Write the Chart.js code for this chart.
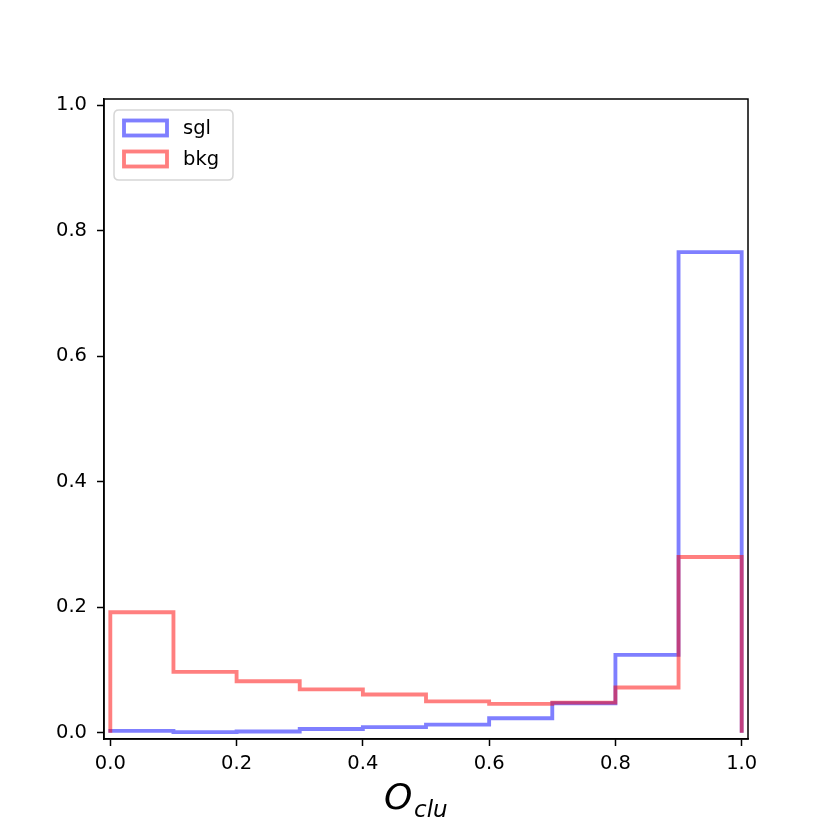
<!DOCTYPE html>
<html>
<head>
<meta charset="utf-8">
<script src="https://cdn.jsdelivr.net/npm/chart.js@4.4.0/dist/chart.umd.min.js"></script>
<style>
html,body{margin:0;padding:0;background:#fff;}
#wrap{width:831px;height:831px;}
</style>
</head>
<body>
<div id="wrap"><canvas id="c" width="831" height="831"></canvas></div>
<script>
// ---- data ----
const binEdges = [0.0, 0.1, 0.2, 0.3, 0.4, 0.5, 0.6, 0.7, 0.8, 0.9, 1.0];
const sglValues = [0.003, 0.001, 0.002, 0.006, 0.009, 0.013, 0.023, 0.047, 0.124, 0.766];
const bkgValues = [0.192, 0.097, 0.082, 0.069, 0.061, 0.050, 0.046, 0.048, 0.072, 0.280];
const seriesLabels = ['sgl', 'bkg'];
const xTicks = [0.0, 0.2, 0.4, 0.6, 0.8, 1.0];
const yTicks = [0.0, 0.2, 0.4, 0.6, 0.8, 1.0];
const xLabelMain = 'O';
const xLabelSub = 'clu';

const FONT = "'DejaVu Sans', sans-serif";
const LW = 3.85;

function stepPoints(edges, vals) {
  const pts = [{x: edges[0], y: 0}];
  for (let i = 0; i < vals.length; i++) pts.push({x: edges[i], y: vals[i]});
  pts.push({x: edges[edges.length - 1], y: vals[vals.length - 1]});
  pts.push({x: edges[edges.length - 1], y: 0});
  return pts;
}

const framePlugin = {
  id: 'frame',
  afterDatasetsDraw(chart) {
    const {ctx, chartArea: a} = chart;
    ctx.save();
    ctx.strokeStyle = '#000';
    ctx.lineWidth = 1.5;
    ctx.strokeRect(a.left, a.top, a.right - a.left, a.bottom - a.top);
    ctx.restore();
  },
  afterDraw(chart) {
    const {ctx} = chart;
    ctx.save();
    // legend box
    const bx = 114, by = 110, bw = 119, bh = 70, r = 5;
    ctx.beginPath();
    ctx.moveTo(bx + r, by);
    ctx.lineTo(bx + bw - r, by);
    ctx.quadraticCurveTo(bx + bw, by, bx + bw, by + r);
    ctx.lineTo(bx + bw, by + bh - r);
    ctx.quadraticCurveTo(bx + bw, by + bh, bx + bw - r, by + bh);
    ctx.lineTo(bx + r, by + bh);
    ctx.quadraticCurveTo(bx, by + bh, bx, by + bh - r);
    ctx.lineTo(bx, by + r);
    ctx.quadraticCurveTo(bx, by, bx + r, by);
    ctx.closePath();
    ctx.fillStyle = 'rgba(255,255,255,0.8)';
    ctx.fill();
    ctx.strokeStyle = 'rgba(204,204,204,0.8)';
    ctx.lineWidth = 1.5;
    ctx.stroke();
    const rows = [128, 159];
    const dsByLabel = {};
    chart.data.datasets.forEach(d => dsByLabel[d.label] = d);
    seriesLabels.forEach((lab, i) => {
      const d = dsByLabel[lab];
      const cy = rows[i];
      ctx.strokeStyle = d.borderColor;
      ctx.lineWidth = LW;
      ctx.lineJoin = 'miter';
      ctx.strokeRect(124, cy - 7.5, 43, 15);
      ctx.fillStyle = '#000';
      ctx.font = '19.5px ' + FONT;
      ctx.textBaseline = 'middle';
      ctx.textAlign = 'left';
      ctx.fillText(lab, 183, cy + 1);
    });
    // x label with subscript
    ctx.fillStyle = '#000';
    ctx.textBaseline = 'alphabetic';
    ctx.textAlign = 'left';
    ctx.font = 'italic 36px ' + FONT;
    ctx.fillText(xLabelMain, 384, 809);
    ctx.font = 'italic 23px ' + FONT;
    ctx.fillText(xLabelSub, 414, 817);
    ctx.restore();
  }
};

new Chart(document.getElementById('c'), {
  type: 'line',
  data: {
    datasets: [
      {
        label: seriesLabels[0],
        data: stepPoints(binEdges, sglValues),
        borderColor: 'rgba(0,0,255,0.5)',
        backgroundColor: 'rgba(0,0,255,0.5)',
        borderWidth: LW,
        stepped: 'before',
        fill: false,
        pointRadius: 0,
        borderJoinStyle: 'miter',
        borderCapStyle: 'butt',
        order: 2
      },
      {
        label: seriesLabels[1],
        data: stepPoints(binEdges, bkgValues),
        borderColor: 'rgba(255,0,0,0.5)',
        backgroundColor: 'rgba(255,0,0,0.5)',
        borderWidth: LW,
        stepped: 'before',
        fill: false,
        pointRadius: 0,
        borderJoinStyle: 'miter',
        borderCapStyle: 'butt',
        order: 1
      }
    ]
  },
  options: {
    responsive: false,
    animation: false,
    devicePixelRatio: 1,
    layout: {padding: {left: 0, top: 99, right: 83, bottom: 0}},
    plugins: {legend: {display: false}, tooltip: {enabled: false}},
    scales: {
      x: {
        type: 'linear',
        min: -0.01,
        max: 1.01,
        afterBuildTicks: s => { s.ticks = xTicks.map(v => ({value: v})); },
        afterFit: s => { s.height = 92; },
        grid: {display: true, drawOnChartArea: false, drawTicks: true, tickLength: 7, tickColor: '#000', tickWidth: 1.5},
        border: {display: true, color: '#000', width: 1.5},
        ticks: {color: '#000', font: {family: FONT, size: 19.5}, padding: 6, maxRotation: 0,
          callback: v => Number(v).toFixed(1)}
      },
      y: {
        type: 'linear',
        min: -0.01,
        max: 1.01,
        afterBuildTicks: s => { s.ticks = yTicks.map(v => ({value: v})); },
        afterFit: s => { s.width = 104; },
        grid: {display: true, drawOnChartArea: false, drawTicks: true, tickLength: 7, tickColor: '#000', tickWidth: 1.5},
        border: {display: true, color: '#000', width: 1.5},
        ticks: {color: '#000', font: {family: FONT, size: 19.5}, padding: 10,
          callback: v => Number(v).toFixed(1)}
      }
    }
  },
  plugins: [framePlugin]
});
</script>
</body>
</html>
